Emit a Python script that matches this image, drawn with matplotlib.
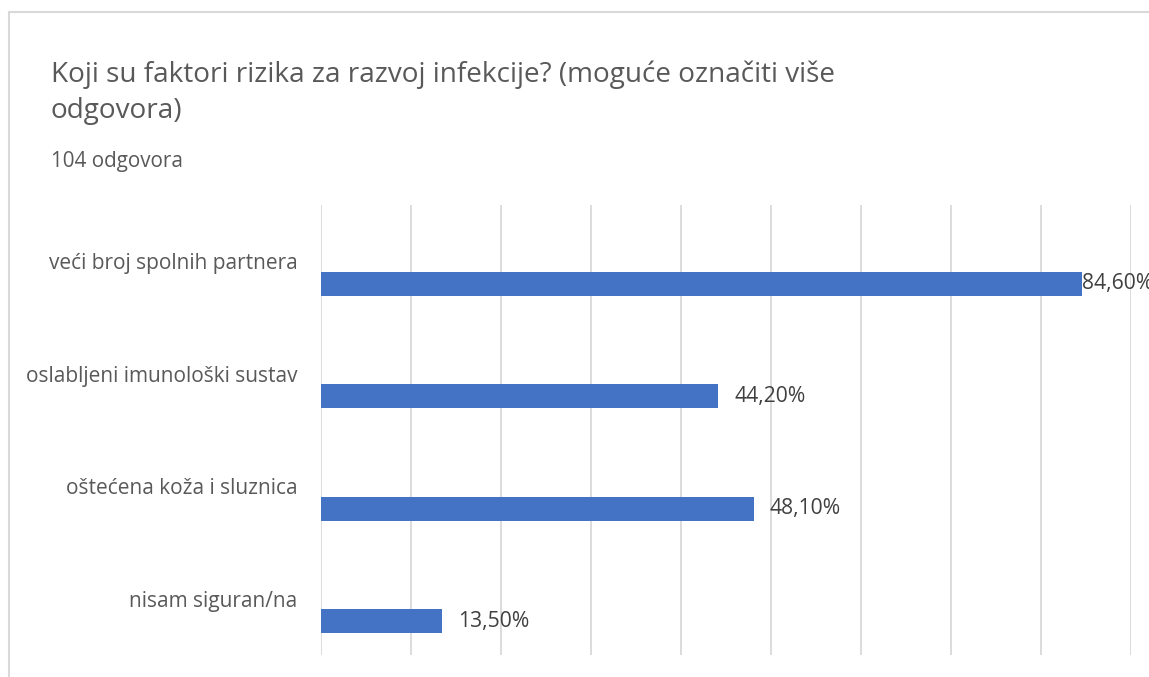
import matplotlib
matplotlib.use("Agg")
import matplotlib.pyplot as plt
from matplotlib.patches import Rectangle

categories = ["veći broj spolnih partnera", "oslabljeni imunološki sustav",
              "oštećena koža i sluznica", "nisam siguran/na"]
values = [84.6, 44.2, 48.1, 13.5]
value_labels = ["84,60%", "44,20%", "48,10%", "13,50%"]
title_line1 = "Koji su faktori rizika za razvoj infekcije? (moguće označiti više"
title_line2 = "odgovora)"
subtitle = "104 odgovora"

plt.rcParams['font.family'] = ['Open Sans', 'DejaVu Sans']

W, H = 1149, 677
fig = plt.figure(figsize=(W / 100, H / 100), dpi=100)
fig.patch.set_facecolor("white")

# outer frame
fig.add_artist(Rectangle((8.5 / W, -0.01), 1.1, 1 - 11.5 / H + 0.01,
                         transform=fig.transFigure, fill=False,
                         edgecolor="#D9D9D9", linewidth=1.5))

ax = fig.add_axes([320.5 / W, 1 - 655 / H, (1130.7 - 320.5) / W, (655 - 205) / H])
n = len(categories)
ypos = list(range(n))
ax.barh([y + 0.2 for y in ypos], values, height=0.215, color="#4472C4", zorder=3)
ax.set_xlim(0, 90)
ax.set_ylim(n - 0.5, -0.5)
ax.set_xticks(range(0, 91, 10))
ax.xaxis.grid(True, color="#D9D9D9", linewidth=1.3, zorder=0)
ax.tick_params(axis="x", length=0, labelbottom=False)
ax.tick_params(axis="y", length=0, pad=16.5)
ax.set_yticks(ypos)
ax.set_yticklabels(categories, fontsize=15, color="#595959")
for s in ax.spines.values():
    s.set_visible(False)

for y, v, lab in zip(ypos, values, value_labels):
    off = 16 if v < 80 else 0
    ax.annotate(lab, (v, y + 0.2), xytext=(off * 0.72, 0), textcoords="offset points",
                va="center", ha="left", fontsize=15.2, color="#404040",
                annotation_clip=False, zorder=4)

fig.text(51 / W, 1 - 82 / H, title_line1, fontsize=20.05, color="#595959", va="baseline")
fig.text(51 / W, 1 - 118 / H, title_line2, fontsize=20.05, color="#595959", va="baseline")
fig.text(51 / W, 1 - 167 / H, subtitle, fontsize=14.9, color="#595959", va="baseline")

fig.savefig("out.png", dpi=100)
